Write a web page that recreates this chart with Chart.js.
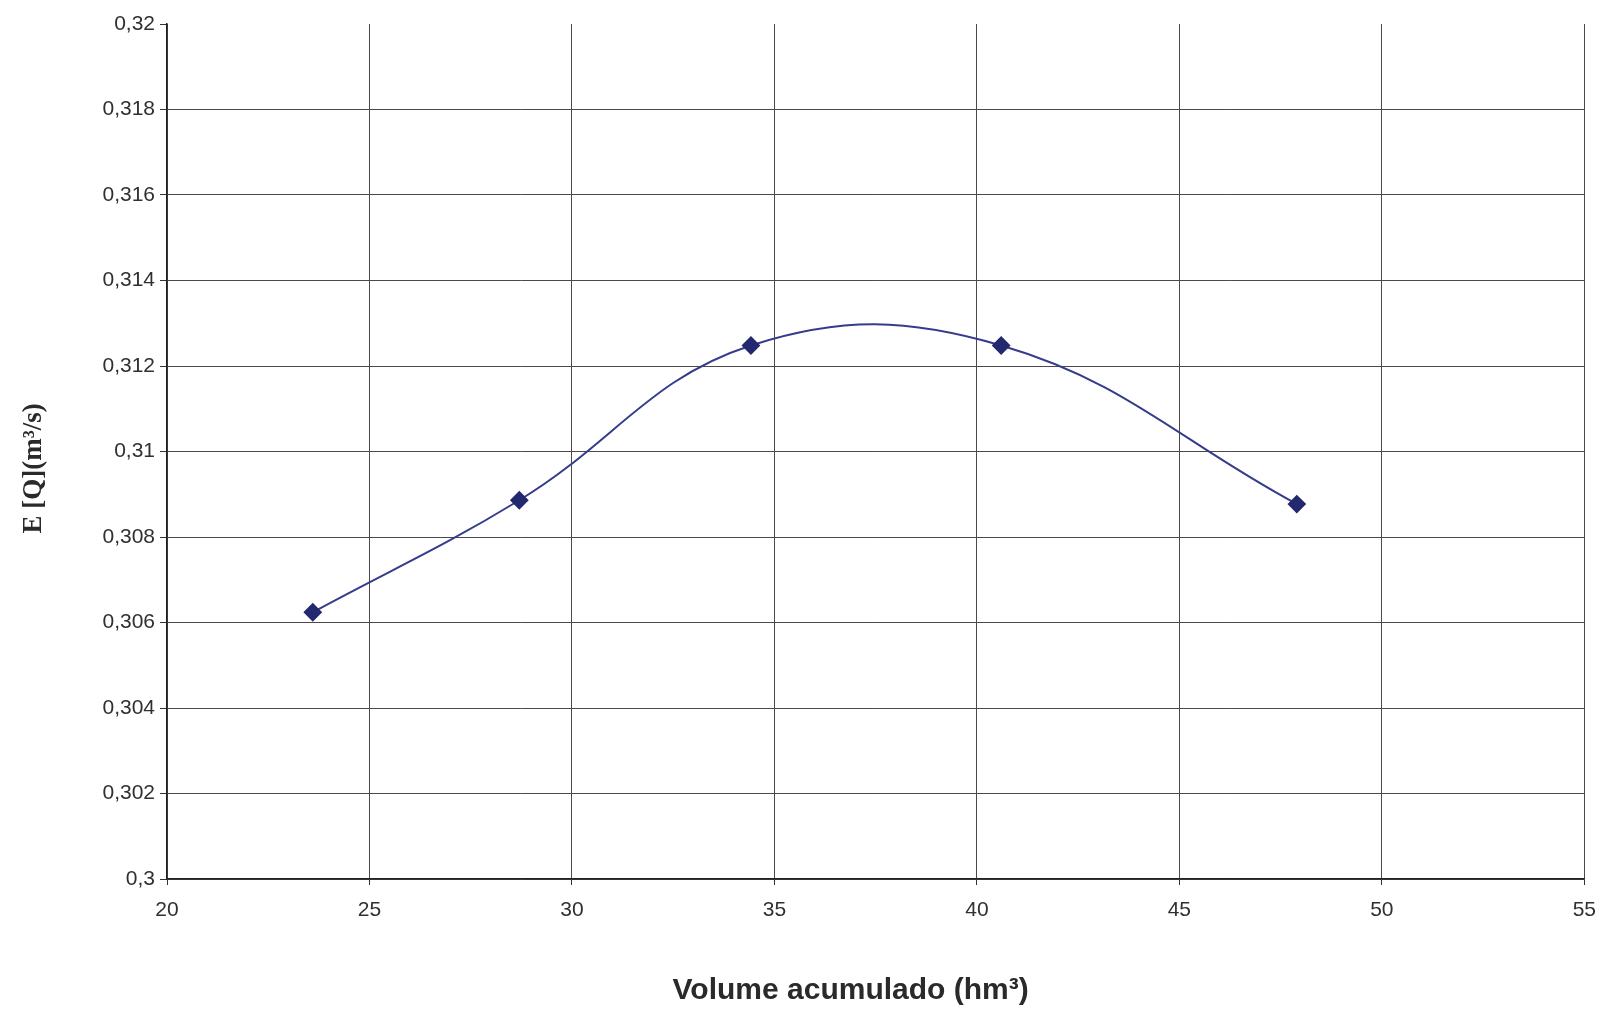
<!DOCTYPE html>
<html>
<head>
    <meta charset="utf-8">
    <title>E[Q] x Volume acumulado</title>
    <style>
        html, body { margin: 0; padding: 0; background: #fff; }
    </style>
</head>
<body>
    <canvas id="chart" width="1609" height="1011"></canvas>
    <script src="https://cdn.jsdelivr.net/npm/chart.js"></script>
    <script>
        // values
        var volume = [23.6, 28.7, 34.42, 40.6, 47.9];
        var eq = [0.30624, 0.30886, 0.31248, 0.31248, 0.30877];
        var xTicks = [20, 25, 30, 35, 40, 45, 50, 55];
        var yTicks = [0.3, 0.302, 0.304, 0.306, 0.308, 0.31, 0.312, 0.314, 0.316, 0.318, 0.32];

        var points = [];
        for (let i = 0; i < volume.length; i++) {
            points.push({ x: volume[i], y: eq[i] });
        }

        var gridColor = "#4a4a4a";
        var textColor = "#303030";
        var nbsp = "\u00a0";

        function commaLabel(v) {
            return Number(v.toFixed(3)).toString().replace(".", ",");
        }

        const myChart = new Chart(document.getElementById("chart"), {
            type: "line",
            data: {
                datasets: [{
                    data: points,
                    borderColor: "#363c8c",
                    borderWidth: 2,
                    backgroundColor: "#23296e",
                    pointBackgroundColor: "#23296e",
                    pointBorderColor: "#23296e",
                    pointStyle: "rectRot",
                    pointRadius: 8,
                    tension: 0.4,
                    fill: false
                }]
            },
            options: {
                responsive: false,
                animation: false,
                layout: { padding: { top: 24, right: 15, left: 0, bottom: 0 } },
                plugins: {
                    legend: { display: false },
                    tooltip: { enabled: false }
                },
                scales: {
                    x: {
                        type: "linear",
                        min: 20,
                        max: 55,
                        afterBuildTicks: function (scale) {
                            scale.ticks = xTicks.map(v => ({ value: v }));
                        },
                        afterFit: function (scale) { scale.height = 132; },
                        border: { color: "#222", width: 1.5 },
                        grid: { color: gridColor, lineWidth: 1, tickLength: 6, tickColor: "#333" },
                        ticks: {
                            color: textColor,
                            padding: 13,
                            maxRotation: 0,
                            font: { family: "'Liberation Sans', Arial, sans-serif", size: 21 },
                            callback: function (v) { return v; }
                        },
                        title: {
                            display: true,
                            text: "Volume acumulado (hm³)" + nbsp.repeat(6),
                            color: "#2a2a2a",
                            padding: { top: 0, bottom: 2 },
                            font: { family: "'Liberation Sans', Arial, sans-serif", size: 30, weight: "bold" }
                        }
                    },
                    y: {
                        type: "linear",
                        min: 0.3,
                        max: 0.32,
                        afterBuildTicks: function (scale) {
                            scale.ticks = yTicks.map(v => ({ value: v }));
                        },
                        afterFit: function (scale) { scale.width = 167; },
                        border: { color: "#222", width: 1.5 },
                        grid: {
                            lineWidth: 1,
                            tickLength: 7,
                            tickColor: "#333",
                            color: function (ctx) {
                                if (ctx.tick && ctx.tick.value >= 0.3199) return "rgba(0,0,0,0)";
                                return gridColor;
                            }
                        },
                        ticks: {
                            color: textColor,
                            padding: 5,
                            font: { family: "'Liberation Sans', Arial, sans-serif", size: 21 },
                            callback: function (v) { return commaLabel(v); }
                        },
                        title: {
                            display: true,
                            text: "E [Q](m³/s)" + nbsp.repeat(5),
                            color: "#2a2a2a",
                            padding: { top: 18, bottom: 0 },
                            font: { family: "'Liberation Serif', 'Times New Roman', serif", size: 27, weight: "bold" }
                        }
                    }
                }
            }
        });
    </script>
</body>
</html>
